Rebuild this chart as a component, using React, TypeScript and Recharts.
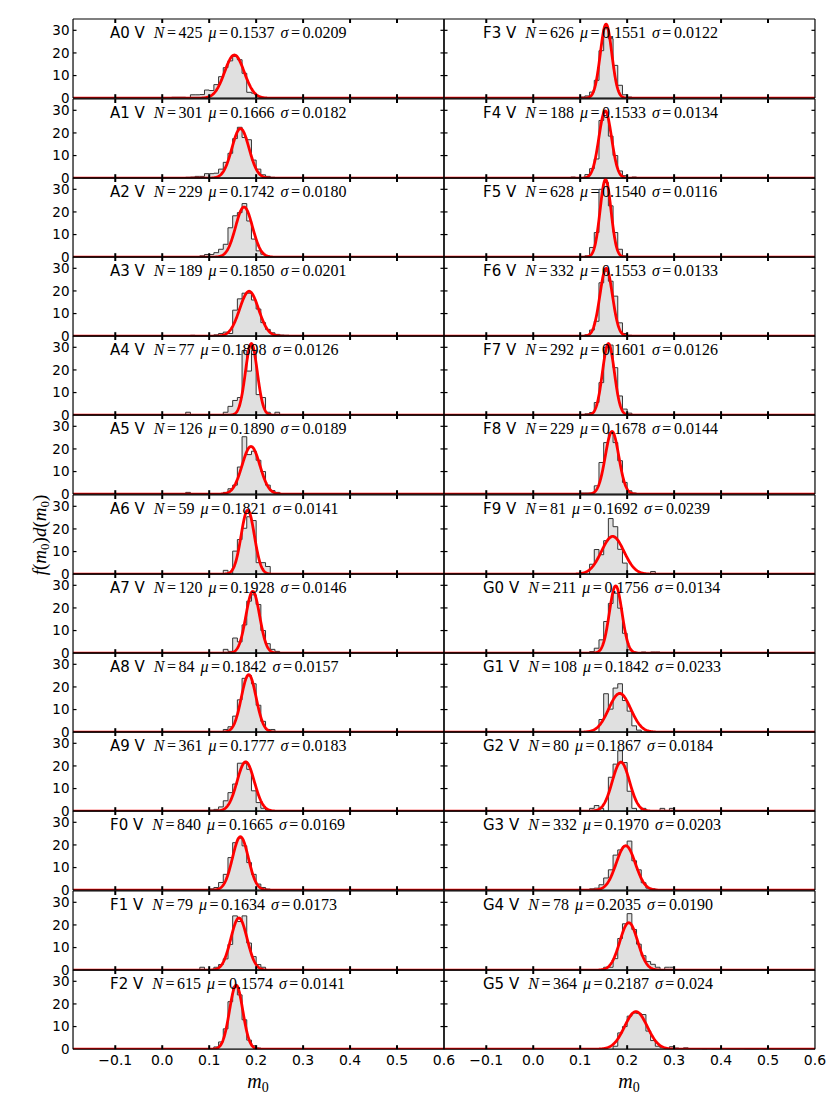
import React from "react";
import { Area, ComposedChart, Line, XAxis, YAxis } from "recharts";

// panel labels, left column top to bottom then right column
const LABELS = [
  "A0 V", "A1 V", "A2 V", "A3 V", "A4 V", "A5 V", "A6 V", "A7 V", "A8 V", "A9 V", "F0 V", "F1 V", "F2 V",
  "F3 V", "F4 V", "F5 V", "F6 V", "F7 V", "F8 V", "F9 V", "G0 V", "G1 V", "G2 V", "G3 V", "G4 V", "G5 V",
];
const COUNTS = [425, 301, 229, 189, 77, 126, 59, 120, 84, 361, 840, 79, 615, 626, 188, 628, 332, 292, 229, 81, 211, 108, 80, 332, 78, 364];
const MU = [
  "0.1537", "0.1666", "0.1742", "0.1850", "0.1898", "0.1890", "0.1821", "0.1928", "0.1842", "0.1777", "0.1665", "0.1634", "0.1574",
  "0.1551", "0.1533", "0.1540", "0.1553", "0.1601", "0.1678", "0.1692", "0.1756", "0.1842", "0.1867", "0.1970", "0.2035", "0.2187",
];
const SIGMA = [
  "0.0209", "0.0182", "0.0180", "0.0201", "0.0126", "0.0189", "0.0141", "0.0146", "0.0157", "0.0183", "0.0169", "0.0173", "0.0141",
  "0.0122", "0.0134", "0.0116", "0.0133", "0.0126", "0.0144", "0.0239", "0.0134", "0.0233", "0.0184", "0.0203", "0.0190", "0.024",
];

// histogram heights f(m0) per 0.01 bin; first bin index (in hundredths) below
const FIRST_BIN = [2, 5, 8, 6, 5, 5, 13, 13, 13, 4, 10, 8, 9, 10, 8, 11, 11, 10, 10, 12, 12, 14, 12, 12, 15, 17];

const H_A0 = [0.4, 0.4, 0.4, 0.3, 1.5, 1.5, 1.6, 3.6, 3.4, 6, 9.5, 13.5, 16.5, 18.5, 17, 11, 2.6, 2.2, 0.8, 0.3];
const H_A1 = [0.4, 0.5, 0.8, 0.8, 2, 2, 2.2, 4, 7, 11, 17.5, 22.5, 18, 17, 8, 4, 1.5, 0.8, 0.4];
const H_A2 = [0.6, 1.2, 1.2, 2, 3.5, 5.7, 13, 18.3, 19.7, 23.7, 16, 8, 2.8, 1.3, 0.5];
const H_A3 = [0.4, 0, 0, 0, 0, 0.6, 1.2, 1.8, 1.2, 11.5, 16.5, 19, 19, 16, 12, 6, 3, 1.5, 0.8, 0.5, 0.4];
const H_A4 = [1.3, 0, 0, 0, 0, 0, 0, 0, 1.3, 3.9, 6.5, 7.8, 28.6, 19.5, 28.6, 9.1, 7.8, 1.3, 0, 1.3];
const H_A5 = [0.8, 0, 0, 0, 0, 0, 0, 0, 0.8, 2.4, 4, 12, 25.4, 17.5, 19, 15, 10, 4, 1.6, 0.8];
const H_A6 = [1.7, 0, 10.2, 15.3, 20.3, 25.4, 23.7, 5.1, 5.1, 3.4];
const H_A7 = [1.7, 0.8, 6.7, 5, 12.5, 23, 25.8, 21.5, 10, 4.2, 1.7, 0.8];
const H_A8 = [1.2, 2.4, 7.1, 14.3, 23.8, 25, 21.4, 11.9, 4.8, 1.2, 1.2];
const H_A9 = [0.3, 0.3, 0.3, 0.3, 0.3, 0.3, 0.5, 0.8, 1.9, 4.6, 8.2, 12, 21.2, 21.2, 18.5, 9, 3.8, 1.3, 0.5, 0.3];
const H_F0 = [0.6, 1.2, 3.4, 7, 14.4, 21, 23, 19.6, 12.2, 7, 2.7, 1.2, 0.5, 0.3];
const H_F1 = [1.3, 0, 0, 1.3, 2.5, 5, 11.4, 24, 21.5, 24, 12, 6, 2.5, 1.3];
const H_F2 = [0.3, 0.3, 1, 3.2, 9, 21, 27.5, 24, 13, 4, 1.5, 0.5];
const H_F3 = [0.5, 1, 2.7, 7.9, 21, 30.7, 26.3, 14.5, 5.7, 1.5, 0.5];
const H_F4 = [0.5, 0, 0, 1.6, 4.2, 8.5, 25.5, 27.7, 18.6, 10, 3.2, 1.1, 0, 0.5];
const H_F5 = [0.6, 4.3, 10.9, 30, 33, 22.7, 10.9, 3.5, 0.6];
const H_F6 = [0.6, 2.7, 6.6, 23.6, 28.7, 24.3, 17.7, 5.9, 1.2, 0.4];
const H_F7 = [0.3, 0.6, 1.2, 5.6, 14.4, 29.9, 31, 21, 8.5, 2.7, 0.9];
const H_F8 = [0.5, 0.5, 0.5, 3.7, 14, 22.8, 27.3, 22.8, 14.8, 5.2, 1.5, 0.5];
const H_F9 = [4.4, 10.9, 8.6, 14.8, 24.6, 21, 11, 4.9, 0, 0, 0, 0, 0, 1.2];
const H_G0 = [0.7, 2.2, 5.9, 14, 22, 26.5, 19.9, 8.8, 1.5, 0.5, 0, 0.5, 0, 0.5, 0.5];
const H_G1 = [5.6, 17, 10.2, 19.5, 21.4, 14, 9.3, 2.8, 0.9];
const H_G2 = [1.25, 2.5, 1.25, 0, 15, 20.8, 26.7, 21.5, 8.8, 1.25, 0, 1.25, 0, 0, 0, 1.25, 0, 1.25];
const H_G3 = [0.6, 0.9, 2.4, 5.4, 9, 15.5, 17.8, 19.3, 21.7, 13, 9, 3.3, 0.9, 0.6, 0.3, 0.3];
const H_G4 = [1.3, 1.3, 5.1, 14, 20.5, 25, 18, 11.5, 6.4, 3.8, 2.6, 1.3, 0, 1.3, 1.3];
const H_G5 = [
  1.3, 7.2, 10, 14.6, 16, 15.8, 15.3, 8, 3.8, 1.3, 0.6, 0.3, 1.1, 0.5, 0.3, 0.6, 0.3,
  0.3, 0.3, 0, 0.3, 0, 0, 0.3, 0, 0, 0, 0.3, 0, 0, 0, 0.3, 0, 0.3,
];

const HISTS = [
  H_A0, H_A1, H_A2, H_A3, H_A4, H_A5, H_A6, H_A7, H_A8, H_A9, H_F0, H_F1, H_F2,
  H_F3, H_F4, H_F5, H_F6, H_F7, H_F8, H_F9, H_G0, H_G1, H_G2, H_G3, H_G4, H_G5,
];

const X_TICKS = [-0.1, 0, 0.1, 0.2, 0.3, 0.4, 0.5, 0.6];
const Y_TICKS = [0, 10, 20, 30];
const X_DOMAIN: [number, number] = [-0.19, 0.6];
const Y_DOMAIN: [number, number] = [0, 35];

// layout (px); axes get a 1px box since recharts skips empty ones
const COL_X = [72.5, 443.5];
const PLOT_W = 371;
const TOP = 19.3;
const ROW_H = 79.2;
const ROWS = 13;
const ML = 45;
const MR = 18;
const MT = 6;
const MB = 26;

const AXIS_LINE = { stroke: "#000", strokeWidth: 1.2 };
const SERIF = "Liberation Serif";
const SANS = "DejaVu Sans";

const fmtX = (v: number) => v.toFixed(1).replace("-", "\u2212");

interface Row {
  x: number;
  h?: number;
  fit?: number;
}

function buildRows(i: number): Row[] {
  const start = FIRST_BIN[i];
  const hist = HISTS[i];
  const rows: Row[] = [{ x: start / 100, h: 0 }];
  hist.forEach((v, k) => rows.push({ x: (start + k) / 100, h: v }));
  rows.push({ x: (start + hist.length) / 100, h: 0 });

  // red curve: the normal fit with the mu and sigma printed in the panel
  const mu = parseFloat(MU[i]);
  const sd = parseFloat(SIGMA[i]);
  const dens = (x: number) => Math.exp(-0.5 * ((x - mu) / sd) ** 2) / (sd * Math.sqrt(2 * Math.PI));
  rows.push({ x: X_DOMAIN[0], fit: dens(X_DOMAIN[0]) });
  for (let s = -100; s <= 100; s++) {
    const x = mu + (sd * s) / 20;
    rows.push({ x, fit: dens(x) });
  }
  rows.push({ x: X_DOMAIN[1], fit: dens(X_DOMAIN[1]) });
  return rows.sort((a, b) => a.x - b.x);
}

const bottomTick = (showLabel: boolean) => (p: any) => {
  const v = p.payload.value;
  return (
    <g>
      {v < 0.59 && <line x1={p.x} x2={p.x} y1={p.y} y2={p.y - 4} stroke="#000" strokeWidth={2} />}
      {showLabel && (
        <text x={p.x} y={p.y + 16} textAnchor="middle" fontFamily={SANS} fontSize={14} fill="#000">
          {fmtX(v)}
        </text>
      )}
    </g>
  );
};

const topTick = (p: any) =>
  p.payload.value < 0.59 ? <line x1={p.x} x2={p.x} y1={p.y} y2={p.y + 4} stroke="#000" strokeWidth={2} /> : <g />;

const leftTick = (showLabel: boolean) => (p: any) => {
  const v = p.payload.value;
  return (
    <g>
      {v > 0 && <line x1={p.x} x2={p.x + 3.5} y1={p.y} y2={p.y} stroke="#000" strokeWidth={1.2} />}
      {showLabel && (
        <text x={p.x - 3.5} y={p.y + 4.7} textAnchor="end" fontFamily={SANS} fontSize={13.5} fill="#000">
          {v}
        </text>
      )}
    </g>
  );
};

const rightTick = (p: any) =>
  p.payload.value > 0 ? <line x1={p.x} x2={p.x - 3.5} y1={p.y} y2={p.y} stroke="#000" strokeWidth={1.2} /> : <g />;

function Panel({ i }: { i: number }) {
  const col = i < ROWS ? 0 : 1;
  const row = i % ROWS;
  const last = row === ROWS - 1;
  return (
    <div style={{ position: "absolute", left: COL_X[col] - ML, top: TOP + row * ROW_H - MT }}>
      <ComposedChart
        width={PLOT_W + ML + MR}
        height={ROW_H + MT + MB}
        data={buildRows(i)}
        margin={{ top: MT - 1, right: MR - 1, bottom: MB - 1, left: ML - 1 }}
      >
        <Area
          xAxisId="b"
          yAxisId="l"
          dataKey="h"
          type="stepAfter"
          fill="#e0e0e0"
          fillOpacity={1}
          stroke="#333"
          strokeWidth={1}
          connectNulls
          dot={false}
          activeDot={false}
          isAnimationActive={false}
        />
        <Line
          xAxisId="t"
          yAxisId="r"
          dataKey="fit"
          stroke="#ff0000"
          strokeWidth={2.8}
          connectNulls
          dot={false}
          activeDot={false}
          isAnimationActive={false}
        />
        <XAxis
          xAxisId="b"
          dataKey="x"
          type="number"
          domain={X_DOMAIN}
          ticks={X_TICKS}
          interval={0}
          allowDataOverflow
          height={1}
          tickSize={0}
          tickMargin={0}
          tickLine={false}
          axisLine={AXIS_LINE}
          tick={bottomTick(last)}
        />
        <XAxis
          xAxisId="t"
          orientation="top"
          dataKey="x"
          type="number"
          domain={X_DOMAIN}
          ticks={X_TICKS}
          interval={0}
          allowDataOverflow
          height={1}
          tickSize={0}
          tickMargin={0}
          tickLine={false}
          axisLine={AXIS_LINE}
          tick={topTick}
        />
        <YAxis
          yAxisId="l"
          type="number"
          domain={Y_DOMAIN}
          ticks={Y_TICKS}
          interval={0}
          allowDataOverflow
          width={1}
          tickSize={0}
          tickMargin={0}
          tickLine={false}
          axisLine={AXIS_LINE}
          tick={leftTick(col === 0)}
        />
        <YAxis
          yAxisId="r"
          orientation="right"
          type="number"
          domain={Y_DOMAIN}
          ticks={Y_TICKS}
          interval={0}
          allowDataOverflow
          width={1}
          tickSize={0}
          tickMargin={0}
          tickLine={false}
          axisLine={AXIS_LINE}
          tick={rightTick}
        />
      </ComposedChart>
    </div>
  );
}

function PanelText({ i }: { i: number }) {
  const col = i < ROWS ? 0 : 1;
  const row = i % ROWS;
  const x = COL_X[col] + (col === 0 ? 37.5 : 39.5);
  const y = TOP + row * ROW_H + 19;
  return (
    <text x={x} y={y} fontFamily={SANS} fontSize={15} fill="#000">
      {LABELS[i]}
      <tspan dx={9} fontFamily={SERIF} fontSize={16} fontStyle="italic">N</tspan>
      <tspan dx={2.5} fontFamily={SERIF} fontSize={16}>=</tspan>
      <tspan dx={2.5} fontFamily={SERIF} fontSize={16}>{COUNTS[i]}</tspan>
      <tspan dx={6} fontFamily={SERIF} fontSize={16} fontStyle="italic">μ</tspan>
      <tspan dx={2.5} fontFamily={SERIF} fontSize={16}>=</tspan>
      <tspan dx={2.5} fontFamily={SERIF} fontSize={16}>{MU[i]}</tspan>
      <tspan dx={6} fontFamily={SERIF} fontSize={16} fontStyle="italic">σ</tspan>
      <tspan dx={2.5} fontFamily={SERIF} fontSize={16}>=</tspan>
      <tspan dx={2.5} fontFamily={SERIF} fontSize={16}>{SIGMA[i]}</tspan>
    </text>
  );
}

function MLabel({ cx }: { cx: number }) {
  return (
    <text x={cx} y={1088} textAnchor="middle" fontFamily={SERIF} fontSize={20} fill="#000">
      <tspan fontStyle="italic">m</tspan>
      <tspan fontSize={14} dy={4}>0</tspan>
    </text>
  );
}

export default function App() {
  return (
    <div style={{ position: "absolute", left: 0, top: 0, width: 831, height: 1119, background: "#fff" }}>
      {LABELS.map((_, i) => (
        <Panel key={i} i={i} />
      ))}
      <svg
        width={831}
        height={1119}
        style={{ position: "absolute", left: 0, top: 0, pointerEvents: "none" }}
      >
        {LABELS.map((_, i) => (
          <PanelText key={i} i={i} />
        ))}
        <MLabel cx={COL_X[0] + PLOT_W / 2} />
        <MLabel cx={COL_X[1] + PLOT_W / 2} />
        <text
          transform="translate(45.5,535) rotate(-90)"
          textAnchor="middle"
          fontFamily={SERIF}
          fontSize={19}
          fill="#000"
        >
          <tspan fontStyle="italic">f</tspan>
          <tspan>(</tspan>
          <tspan fontStyle="italic">m</tspan>
          <tspan fontSize={13} dy={3.5}>0</tspan>
          <tspan dy={-3.5}>)</tspan>
          <tspan fontStyle="italic">d</tspan>
          <tspan>(</tspan>
          <tspan fontStyle="italic">m</tspan>
          <tspan fontSize={13} dy={3.5}>0</tspan>
          <tspan dy={-3.5}>)</tspan>
        </text>
      </svg>
    </div>
  );
}
